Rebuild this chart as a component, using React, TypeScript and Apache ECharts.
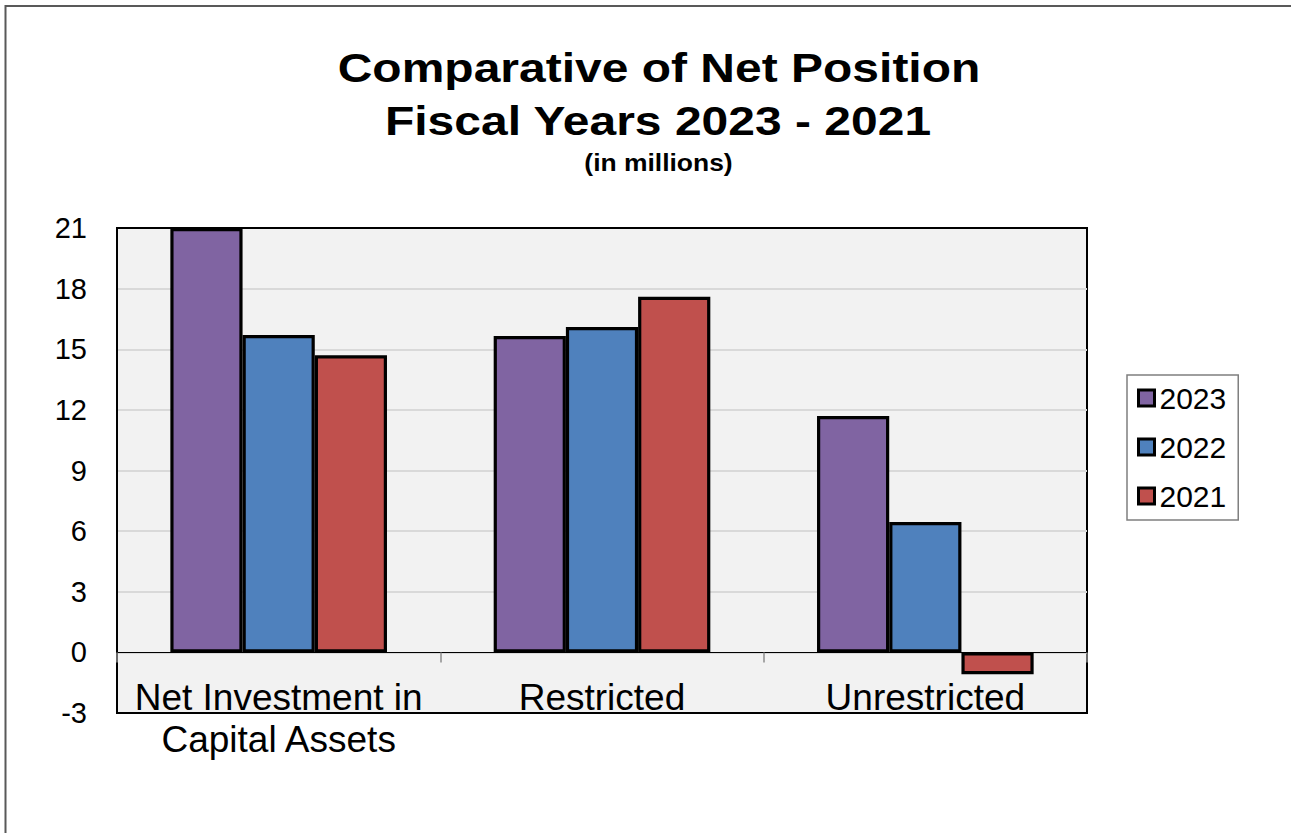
import React, { useEffect, useRef } from "react";
import * as echarts from "echarts";

const categories = ["Net Investment in\nCapital Assets", "Restricted", "Unrestricted"];
const seriesNames = ["2023", "2022", "2021"];
const values2023 = [21.0, 15.65, 11.7];
const values2022 = [15.7, 16.1, 6.45];
const values2021 = [14.7, 17.6, -1.08];
const colors = ["#8064A2", "#4F81BD", "#C0504D"];
const titleLines = ["Comparative of Net Position", "Fiscal Years 2023 - 2021", "(in millions)"];

const FONT = '"Liberation Sans", Arial, Helvetica, sans-serif';

export default function App() {
  const ref = useRef<HTMLDivElement>(null);
  useEffect(() => {
    if (!ref.current) return;
    const chart = echarts.init(ref.current, null, { renderer: "svg" });
    const data = [values2023, values2022, values2021];
    const titleStyle = (text: string, size: number) => ({
      text,
      fontSize: size,
      fontWeight: "bold",
      fontFamily: FONT,
      fill: "#000",
      align: "center",
      verticalAlign: "middle",
    });
    const option: any = {
      animation: false,
      backgroundColor: "#ffffff",
      textStyle: { fontFamily: FONT },
      graphic: [
        {
          type: "rect",
          silent: true,
          z: -10,
          shape: { x: 5.5, y: 6, width: 1500, height: 1000 },
          style: { fill: "none", stroke: "#595959", lineWidth: 2 },
        },
        { type: "text", x: 659, y: 68, scaleX: 1.2, scaleY: 1.04, style: titleStyle(titleLines[0], 40) },
        { type: "text", x: 658, y: 121, scaleX: 1.2, scaleY: 1.04, style: titleStyle(titleLines[1], 40) },
        { type: "text", x: 658.5, y: 163, scaleX: 1.15, style: titleStyle(titleLines[2], 23) },
      ],
      legend: {
        orient: "vertical",
        left: 1127,
        top: 375,
        padding: [8, 12, 9, 10],
        itemWidth: 16,
        itemHeight: 16,
        itemGap: 19,
        borderColor: "#7f7f7f",
        borderWidth: 1.5,
        backgroundColor: "#ffffff",
        icon: "rect",
        itemStyle: { borderColor: "#000", borderWidth: 3 },
        textStyle: { fontSize: 30, color: "#000", fontFamily: FONT },
        data: seriesNames,
      },
      grid: {
        show: true,
        left: 117,
        right: 204,
        top: 228,
        bottom: 120,
        backgroundColor: "#f2f2f2",
        borderColor: "#000",
        borderWidth: 2,
        containLabel: false,
      },
      xAxis: {
        type: "category",
        data: categories,
        axisLine: { show: true, onZero: true, lineStyle: { color: "#000", width: 1 } },
        axisTick: { show: true, length: 10, lineStyle: { color: "#8c8c8c", width: 1.5 } },
        axisLabel: {
          fontSize: 37,
          lineHeight: 42,
          color: "#000",
          margin: -37,
          fontFamily: FONT,
          interval: 0,
        },
        splitLine: { show: false },
      },
      yAxis: {
        type: "value",
        min: -3,
        max: 21,
        interval: 3,
        axisLine: { show: true, lineStyle: { color: "#000", width: 2 } },
        axisTick: { show: false },
        axisLabel: { fontSize: 29, color: "#000", margin: 30, fontFamily: FONT },
        splitLine: {
          show: true,
          showMinLine: false,
          showMaxLine: false,
          lineStyle: { color: "#d9d9d9", width: 2 },
        },
      },
      series: seriesNames.map((name, i) => ({
        name,
        type: "bar",
        data: data[i],
        barGap: "0%",
        barCategoryGap: "33%",
        itemStyle: { color: colors[i], borderColor: "#000", borderWidth: 3.2 },
      })),
    };
    chart.setOption(option);
    return () => chart.dispose();
  }, []);
  return (
    <div
      ref={ref}
      style={{ position: "absolute", left: 0, top: 0, width: 1291, height: 833 }}
    />
  );
}
